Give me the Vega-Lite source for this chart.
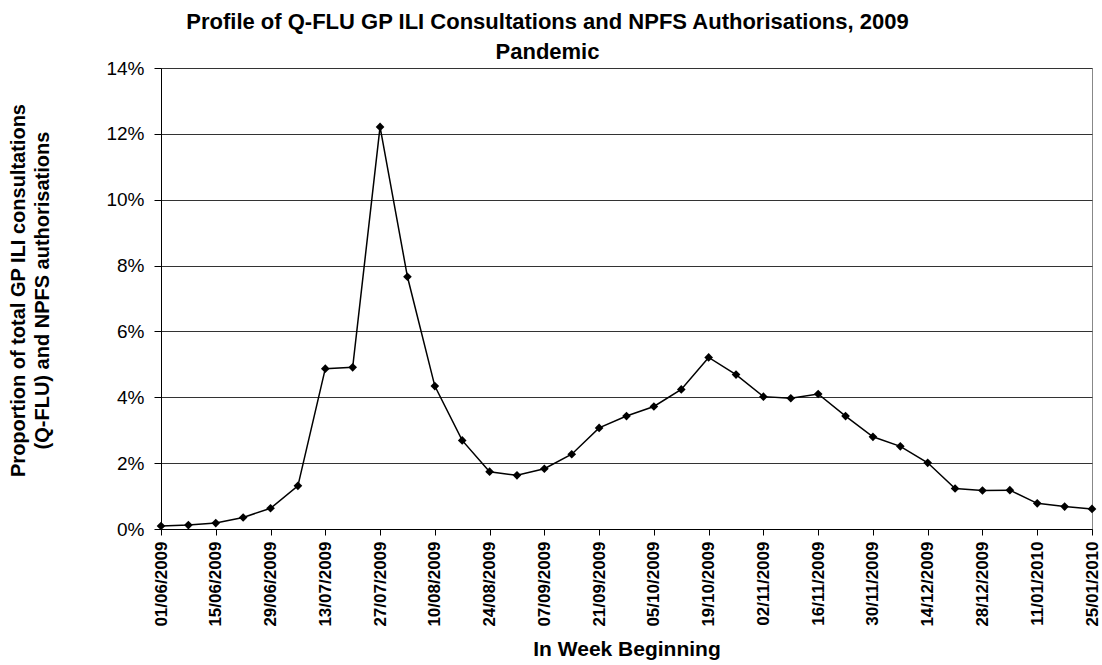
{
  "$schema": "https://vega.github.io/schema/vega-lite/v6.json",
  "width": 931,
  "height": 461,
  "autosize": {"type": "none"},
  "padding": {"left": 161, "top": 68, "right": 10, "bottom": 136},
  "background": "white",
  "title": {
    "text": ["Profile of Q-FLU GP ILI Consultations and NPFS Authorisations, 2009", "Pandemic"],
    "font": "Liberation Sans",
    "fontSize": 22,
    "fontWeight": "bold",
    "color": "black",
    "anchor": "middle",
    "dx": -79,
    "offset": -5,
    "lineHeight": 30
  },
  "config": {
    "view": {"stroke": "#888888", "strokeWidth": 1},
    "font": "Liberation Sans"
  },
  "data": {
    "values": [
      {"week": "01/06/2009", "pct": 0.09},
      {"week": "08/06/2009", "pct": 0.12},
      {"week": "15/06/2009", "pct": 0.18},
      {"week": "22/06/2009", "pct": 0.35},
      {"week": "29/06/2009", "pct": 0.63},
      {"week": "06/07/2009", "pct": 1.31},
      {"week": "13/07/2009", "pct": 4.87},
      {"week": "20/07/2009", "pct": 4.91},
      {"week": "27/07/2009", "pct": 12.21},
      {"week": "03/08/2009", "pct": 7.66},
      {"week": "10/08/2009", "pct": 4.34},
      {"week": "17/08/2009", "pct": 2.69},
      {"week": "24/08/2009", "pct": 1.74},
      {"week": "31/08/2009", "pct": 1.63},
      {"week": "07/09/2009", "pct": 1.83},
      {"week": "14/09/2009", "pct": 2.27},
      {"week": "21/09/2009", "pct": 3.07},
      {"week": "28/09/2009", "pct": 3.43},
      {"week": "05/10/2009", "pct": 3.72},
      {"week": "12/10/2009", "pct": 4.24},
      {"week": "19/10/2009", "pct": 5.21},
      {"week": "26/10/2009", "pct": 4.69},
      {"week": "02/11/2009", "pct": 4.02},
      {"week": "09/11/2009", "pct": 3.97},
      {"week": "16/11/2009", "pct": 4.10},
      {"week": "23/11/2009", "pct": 3.43},
      {"week": "30/11/2009", "pct": 2.80},
      {"week": "07/12/2009", "pct": 2.51},
      {"week": "14/12/2009", "pct": 2.01},
      {"week": "21/12/2009", "pct": 1.23},
      {"week": "28/12/2009", "pct": 1.17},
      {"week": "04/01/2010", "pct": 1.18},
      {"week": "11/01/2010", "pct": 0.78},
      {"week": "18/01/2010", "pct": 0.68},
      {"week": "25/01/2010", "pct": 0.61}
    ]
  },
  "encoding": {
    "x": {
      "field": "week",
      "type": "ordinal",
      "sort": null,
      "scale": {"type": "point", "padding": 0},
      "axis": {
        "title": "In Week Beginning",
        "titleFont": "Liberation Sans",
        "titleFontSize": 21,
        "titleFontWeight": "bold",
        "titleColor": "black",
        "titlePadding": 12,
        "values": ["01/06/2009", "15/06/2009", "29/06/2009", "13/07/2009", "27/07/2009", "10/08/2009", "24/08/2009", "07/09/2009", "21/09/2009", "05/10/2009", "19/10/2009", "02/11/2009", "16/11/2009", "30/11/2009", "14/12/2009", "28/12/2009", "11/01/2010", "25/01/2010"],
        "labelAngle": -90,
        "labelFont": "Liberation Sans",
        "labelFontSize": 17,
        "labelFontWeight": "bold",
        "labelColor": "black",
        "labelPadding": 6,
        "labelOverlap": false,
        "labelBound": false,
        "tickColor": "black",
        "tickSize": 6,
        "domainColor": "black",
        "grid": false
      }
    },
    "y": {
      "field": "pct",
      "type": "quantitative",
      "scale": {"domain": [0, 14], "nice": false},
      "axis": {
        "title": ["Proportion of total GP ILI consultations", "(Q-FLU) and NPFS authorisations"],
        "titleFont": "Liberation Sans",
        "titleFontSize": 20,
        "titleFontWeight": "bold",
        "titleColor": "black",
        "titleLineHeight": 24,
        "titleX": -133,
        "titleY": 222,
        "values": [0, 2, 4, 6, 8, 10, 12, 14],
        "labelExpr": "datum.value + '%'",
        "labelFont": "Liberation Sans",
        "labelFontSize": 19,
        "labelColor": "black",
        "labelPadding": 10,
        "tickColor": "black",
        "tickSize": 7,
        "domainColor": "black",
        "grid": true,
        "gridColor": "#333333",
        "gridWidth": 1
      }
    }
  },
  "layer": [
    {"mark": {"type": "line", "color": "black", "strokeWidth": 1.5}},
    {"mark": {"type": "point", "shape": "diamond", "filled": true, "color": "black", "size": 75, "opacity": 1}}
  ]
}
